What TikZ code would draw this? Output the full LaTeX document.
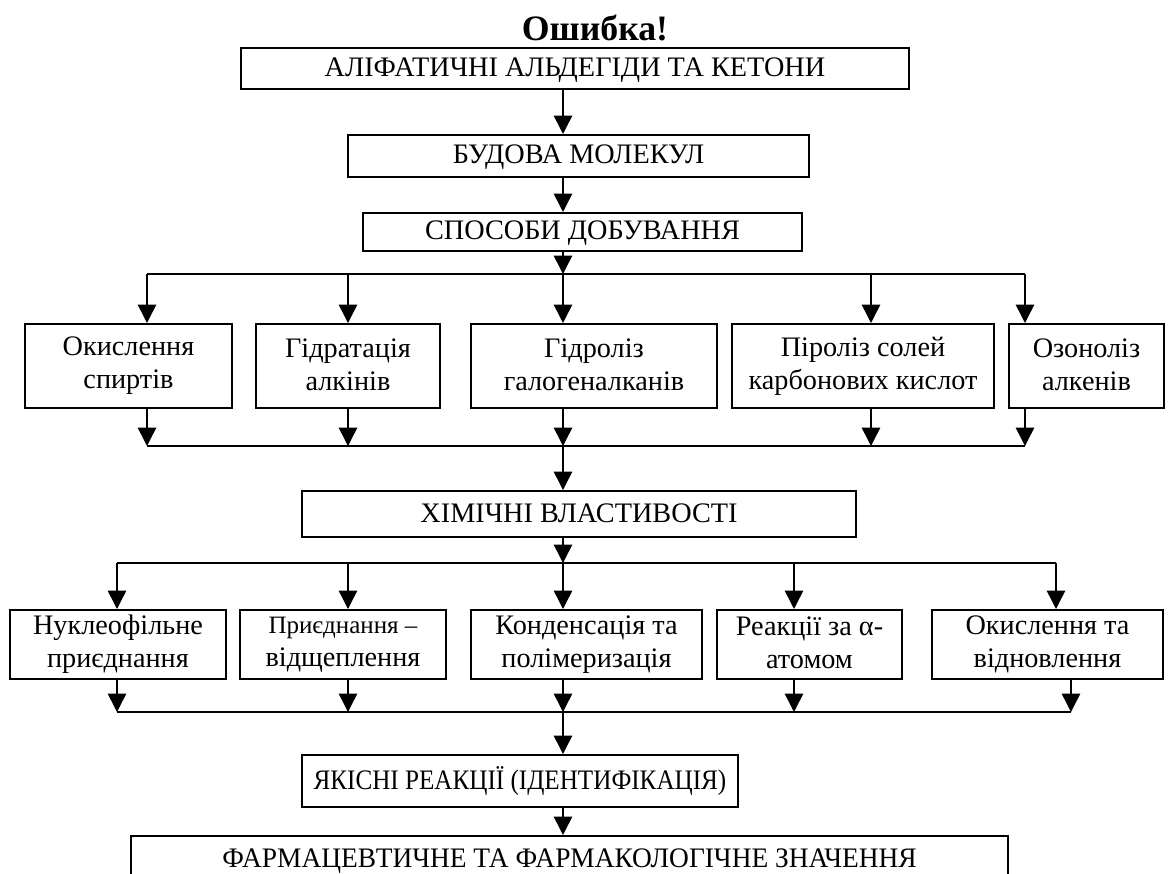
\documentclass[tikz,border=0pt]{standalone}
\usepackage{fontspec}
\setmainfont{Liberation Serif}
\newfontfamily\narrowserif[FakeStretch=0.89]{Liberation Serif}
\newfontfamily\slimserif[FakeStretch=0.97]{Liberation Serif}
\usetikzlibrary{arrows.meta}
\begin{document}
\begin{tikzpicture}[x=0.4pt,y=-0.4pt,block/.style={draw,line width=0.8pt,inner sep=0pt,align=center,font=\fontsize{11.3}{13.2}\selectfont,execute at begin node=\rule{0pt}{8.5pt},execute at end node=\rule[-1.4pt]{0pt}{1.4pt}},link/.style={line width=0.6pt},feed/.style={line width=0.6pt,-{Triangle[width=7.4pt,length=7.4pt]}}]
\clip (0,0) rectangle (1168,874);
\node[font=\fontsize{14.3}{16}\selectfont\bfseries] (err) at (595,28) {Ошибка!};
% main column
\node[block,minimum width=267.2pt,minimum height=16.4pt] (ald) at (575,68.5) {АЛІФАТИЧНІ АЛЬДЕГІДИ ТА КЕТОНИ};
\node[block,minimum width=184.4pt,minimum height=16.8pt] (mol) at (578.5,156) {БУДОВА МОЛЕКУЛ};
\node[block,minimum width=175.6pt,minimum height=15.2pt] (prep) at (582.5,232) {СПОСОБИ ДОБУВАННЯ};
\node[block,minimum width=221.6pt,minimum height=18.4pt] (chem) at (579,514) {ХІМІЧНІ ВЛАСТИВОСТІ};
\node[block,minimum width=174.4pt,minimum height=20.8pt,font=\fontsize{11.3}{13.2}\narrowserif] (qual) at (520,781) {ЯКІСНІ РЕАКЦІЇ (ІДЕНТИФІКАЦІЯ)};
\node[block,minimum width=350.8pt,minimum height=19.2pt,font=\fontsize{11.3}{13.2}\slimserif] (pharm) at (569.5,860) {ФАРМАЦЕВТИЧНЕ ТА ФАРМАКОЛОГІЧНЕ ЗНАЧЕННЯ};
% methods of preparation
\node[block,minimum width=82.8pt,minimum height=33.6pt] (oxal) at (128.5,366) {Окислення\\спиртів};
\node[block,minimum width=73.6pt,minimum height=33.6pt] (hydr) at (348,366) {Гідратація\\алкінів};
\node[block,minimum width=98.4pt,minimum height=33.6pt] (hal) at (594,366) {Гідроліз\\галогеналканів};
\node[block,minimum width=104.8pt,minimum height=33.6pt] (pyr) at (863,366) {Піроліз солей\\карбонових кислот};
\node[block,minimum width=62pt,minimum height=33.6pt] (ozo) at (1086.5,366) {Озоноліз\\алкенів};
% chemical properties
\node[block,minimum width=86.4pt,minimum height=27.6pt] (nuc) at (118,644.5) {Нуклеофільне\\приєднання};
\node[block,minimum width=82.4pt,minimum height=27.6pt] (addel) at (343,644.5) {{\fontsize{10}{12}\selectfont Приєднання –}\\відщеплення};
\node[block,minimum width=92.4pt,minimum height=27.6pt] (cond) at (586.5,644.5) {Конденсація та\\полімеризація};
\node[block,minimum width=74pt,minimum height=27.6pt] (alpha) at (809.5,644.5) {Реакції за α-\\атомом};
\node[block,minimum width=92.4pt,minimum height=27.6pt] (redox) at (1047.5,644.5) {Окислення та\\відновлення};
% junctions
\coordinate (spine) at (563,0);
\coordinate (fork1) at (563,274);
\coordinate (join1) at (563,446);
\coordinate (fork2) at (563,563);
\coordinate (join2) at (563,712);
\coordinate (p1) at (147,274);
\coordinate (p2) at (348,274);
\coordinate (p4) at (871,274);
\coordinate (p5) at (1025,274);
\coordinate (c1) at (117,563);
\coordinate (c2) at (348,563);
\coordinate (c4) at (794,563);
\coordinate (c5) at (1056,563);
\coordinate (d5) at (1071,712);
% connectors
\draw[feed] (ald.south -| spine) -- (mol.north -| spine);
\draw[feed] (mol.south -| spine) -- (prep.north -| spine);
\draw[feed] (prep.south -| spine) -- (fork1);
\draw[link] (p1) -- (p5);
\draw[feed] (p1) -- (p1 |- oxal.north);
\draw[feed] (p2) -- (p2 |- hydr.north);
\draw[feed] (fork1) -- (fork1 |- hal.north);
\draw[feed] (p4) -- (p4 |- pyr.north);
\draw[feed] (p5) -- (p5 |- ozo.north);
\draw[feed] (oxal.south -| p1) -- (p1 |- join1);
\draw[feed] (hydr.south -| p2) -- (p2 |- join1);
\draw[feed] (hal.south -| join1) -- (join1);
\draw[feed] (pyr.south -| p4) -- (p4 |- join1);
\draw[feed] (ozo.south -| p5) -- (p5 |- join1);
\draw[link] (p1 |- join1) -- (p5 |- join1);
\draw[feed] (join1) -- (chem.north -| join1);
\draw[feed] (chem.south -| fork2) -- (fork2);
\draw[link] (c1) -- (c5);
\draw[feed] (c1) -- (c1 |- nuc.north);
\draw[feed] (c2) -- (c2 |- addel.north);
\draw[feed] (fork2) -- (fork2 |- cond.north);
\draw[feed] (c4) -- (c4 |- alpha.north);
\draw[feed] (c5) -- (c5 |- redox.north);
\draw[feed] (nuc.south -| c1) -- (c1 |- join2);
\draw[feed] (addel.south -| c2) -- (c2 |- join2);
\draw[feed] (cond.south -| join2) -- (join2);
\draw[feed] (alpha.south -| c4) -- (c4 |- join2);
\draw[feed] (redox.south -| d5) -- (d5);
\draw[link] (c1 |- join2) -- (d5);
\draw[feed] (join2) -- (qual.north -| join2);
\draw[feed] (qual.south -| join2) -- (pharm.north -| join2);
\end{tikzpicture}
\end{document}
